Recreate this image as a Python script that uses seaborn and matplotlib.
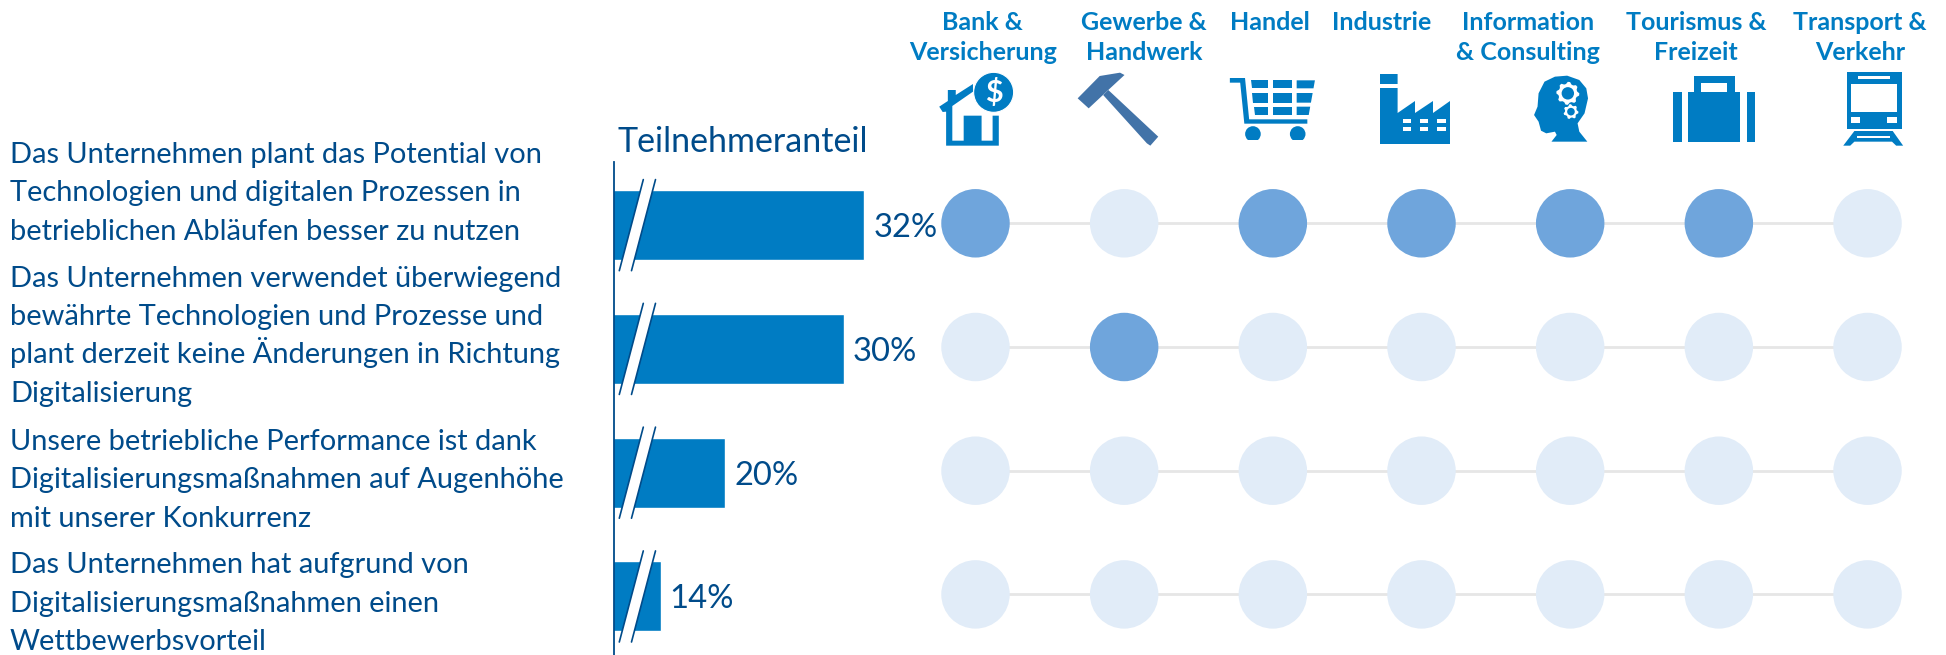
import numpy as np
import pandas as pd
import matplotlib
matplotlib.use("Agg")
import matplotlib.pyplot as plt
from matplotlib.patches import Polygon, Rectangle, Circle
import seaborn as sns

statements = [
    "Das Unternehmen plant das Potential von\nTechnologien und digitalen Prozessen in\nbetrieblichen Abläufen besser zu nutzen",
    "Das Unternehmen verwendet überwiegend\nbewährte Technologien und Prozesse und\nplant derzeit keine Änderungen in Richtung\nDigitalisierung",
    "Unsere betriebliche Performance ist dank\nDigitalisierungsmaßnahmen auf Augenhöhe\nmit unserer Konkurrenz",
    "Das Unternehmen hat aufgrund von\nDigitalisierungsmaßnahmen einen\nWettbewerbsvorteil",
]
share = [32.1, 30.3, 20.0, 14.4]
share_labels = ["32%", "30%", "20%", "14%"]
sectors = ["Bank &\nVersicherung", "Gewerbe &\nHandwerk", "Handel", "Industrie",
           "Information\n& Consulting", "Tourismus &\nFreizeit", "Transport &\nVerkehr"]
highlight = [
    [1, 0, 1, 1, 1, 1, 0],
    [0, 1, 0, 0, 0, 0, 0],
    [0, 0, 0, 0, 0, 0, 0],
    [0, 0, 0, 0, 0, 0, 0],
]

BLUE, NAVY, DOT, PALE, LINE, HAMMER = "#007CC3", "#004B8A", "#6FA5DC", "#E1ECF8", "#E6E6E6", "#4273A8"
W, H = 1946, 655

sns.set_theme(style="white")
plt.rcParams["font.family"] = ["Lato", "DejaVu Sans"]

fig = plt.figure(figsize=(W / 100, H / 100), dpi=100, facecolor="white")


def px_axes(l, t, r, b, **kw):
    return fig.add_axes([l / W, 1 - b / H, (r - l) / W, (b - t) / H], **kw)


# overlay in pixel units for text and pictograms
ov = px_axes(0, 0, W, H)
ov.set_xlim(0, W)
ov.set_ylim(H, 0)
ov.axis("off")

# bars
PX_PER = 11.5
X_LEFT = 10.3
ax = px_axes(613.5, 162, 613.5 + 40 * PX_PER, 655)
ax.patch.set_alpha(0)
bars = pd.DataFrame({"stmt": statements, "share": share})
sns.barplot(data=bars, y="stmt", x="share", orient="h", color=BLUE, saturation=1,
            width=0.565, ax=ax)
ax.set_xlim(X_LEFT, X_LEFT + 40)
ax.set_ylim(3.473, -0.51)
ax.set_xlabel("")
ax.set_ylabel("")
ax.set_xticks([])
ax.set_yticks([])
sns.despine(ax=ax, top=True, right=True, bottom=True, left=False)
ax.spines["left"].set_color(NAVY)
ax.spines["left"].set_linewidth(1.3)
for i, (v, lab) in enumerate(zip(share, share_labels)):
    ax.annotate(lab, (v, i), xytext=(6.5, 0), textcoords="offset points", va="center_baseline",
                ha="left", color=NAVY, fontsize=23.6)
    # axis-break marks
    x0 = X_LEFT + (619.3 - 613.5) / PX_PER
    x1 = X_LEFT + (643.3 - 613.5) / PX_PER
    gap = 12.2 / PX_PER
    yt, yb = i - 0.368, i + 0.368
    ax.fill([x0, x1, x1 + gap, x0 + gap], [yb, yt, yt, yb], color="white", lw=0, zorder=5)
    ax.plot([x0, x1], [yb, yt], color=NAVY, lw=1.2, zorder=6)
    ax.plot([x0 + gap, x1 + gap], [yb, yt], color=NAVY, lw=1.2, zorder=6)

# dot matrix
dx = 148.67
dy = 123.7
dax = px_axes(975.5 - dx / 2, 223.3 - dy / 2, 975.5 + 6.5 * dx, 223.3 + 3.5 * dy)
dax.patch.set_alpha(0)
dots = pd.DataFrame(
    [(r, c, highlight[r][c]) for r in range(len(statements)) for c in range(len(sectors))],
    columns=["row", "col", "hi"],
)
sns.lineplot(data=dots, x="col", y="row", units="row", estimator=None, color=LINE, lw=2,
             ax=dax, legend=False, zorder=1)
sns.scatterplot(data=dots, x="col", y="row", hue="hi", palette={0: PALE, 1: DOT},
                s=2430, linewidth=0, ax=dax, legend=False, zorder=2, clip_on=False)
dax.set_xlim(-0.5, 6.5)
dax.set_ylim(3.5, -0.5)
dax.axis("off")

# texts
first_baseline = [162.7, 286.7, 450, 573.3]
for t, y in zip(statements, first_baseline):
    for k, line in enumerate(t.split("\n")):
        ov.text(10, y + k * 38.4, line, color=NAVY, fontsize=20.9, ha="left", va="baseline")
ov.text(618, 152, "Teilnehmeranteil", color=NAVY, fontsize=24.5, ha="left", va="baseline")

header_x = [982.6, 1144, 1270, 1382, 1528, 1696, 1860]
for s, x in zip(sectors, header_x):
    for k, line in enumerate(s.split("\n")):
        ov.text(x, 30 + k * 29.5, line, color=BLUE, fontsize=18, fontweight="bold",
                ha="center", va="baseline")


# pictograms (drawn in crop units of the reference)
def Z1(p):
    return [(880 + x / 2.904, y / 3) for x, y in p]


def Z2(p):
    return [(1400 + x / 2.872, y / 3) for x, y in p]


def poly(p, c=BLUE, z=3):
    ov.add_patch(Polygon(p, closed=True, fc=c, ec="none", zorder=z))


def rect(z, x0, y0, x1, y1, c=BLUE, zo=3):
    poly(z([(x0, y0), (x1, y0), (x1, y1), (x0, y1)]), c, zo)


# bank
poly(Z1([(192, 335), (192, 437), (345, 437), (345, 347), (327, 347), (327, 422), (295, 422),
         (295, 347), (243, 347), (243, 422), (210, 422), (210, 318), (270, 275), (270, 252),
         (220, 285), (220, 270), (197, 270), (197, 303), (172, 320), (182, 336)]))
cx, cy = Z1([(330, 277)])[0]
ov.add_patch(Circle((cx, cy), 20, fc=BLUE, ec="white", lw=0.8, zorder=4))
ov.text(cx, cy + 0.5, "$", color="white", fontsize=22, fontweight="bold", ha="center",
        va="center", zorder=5)

# hammer
poly(Z1([(574, 295), (638, 228), (697, 218), (710, 225), (665, 268), (606, 325)]), HAMMER)
poly(Z1([(648, 285), (663, 270), (808, 410), (785, 437), (775, 430)]), HAMMER)

# cart
poly(Z1([(1016, 234), (1060, 234), (1072, 358), (1241, 358), (1241, 371), (1058, 371),
         (1046, 248), (1016, 248)]))
for (y0, y1) in [(241, 265), (279, 308), (320, 345)]:
    t0 = (y0 - 241) / 104
    t1 = (y1 - 241) / 104
    for a0, a1, b0, b1 in [(1078, 1127, 1088, 1127), (1140, 1195, 1140, 1195), (1210, 1263, 1210, 1245)]:
        poly(Z1([(a0 + (b0 - a0) * t0, y0), (a1 + (b1 - a1) * t0, y0),
                 (a1 + (b1 - a1) * t1, y1), (a0 + (b0 - a0) * t1, y1)]))
for wx in (1083, 1213):
    c = Z1([(wx, 402)])[0]
    ov.add_patch(Circle(c, 7.8, fc=BLUE, ec="none", zorder=3))
rect(Z1, 1050, 420, 1250, 432, "white", 4)

# factory
poly([(1380, 74), (1397.6, 74), (1397.6, 113), (1415, 101), (1415, 113), (1433, 101), (1433, 113),
      (1450, 101), (1450, 144), (1380, 144)])
ov.add_patch(Rectangle((1380, 83.5), 17.6, 4, fc="white", ec="none", zorder=4))
for wx in (1402.5, 1419.5, 1437):
    for wy in (118.5, 126.5):
        ov.add_patch(Rectangle((wx, wy), 8.5, 4, fc="white", ec="none", zorder=4))

# head with gears
poly(Z2([(435, 425), (450, 405), (445, 395), (420, 400), (405, 392), (398, 365), (385, 345),
         (395, 320), (398, 280), (415, 245), (445, 230), (480, 227), (515, 240), (535, 265),
         (540, 295), (530, 340), (510, 370), (515, 395), (538, 425)]))


def gear(center, r_out, r_in, r_hole, n=8):
    c = np.array(Z2([center])[0])
    ang = np.linspace(0, 2 * np.pi, 4 * n, endpoint=False)
    rad = np.array([r_out, r_out, r_in, r_in] * n)
    poly(np.c_[c[0] + rad * np.cos(ang), c[1] + rad * np.sin(ang)], "white", 4)
    ov.add_patch(Circle(c, r_hole, fc=BLUE, ec="none", zorder=5))


gear((482, 280), 11.5, 9.5, 6.2)
gear((491, 335), 7.5, 6, 3.8, 7)

# suitcase
rect(Z2, 784, 275, 810, 425)
rect(Z2, 996, 275, 1019, 425)
rect(Z2, 828, 275, 977, 425)
rect(Z2, 845, 228, 961, 275)
rect(Z2, 865, 250, 940, 275, "white", 4)

# train
rect(Z2, 1283, 216, 1441, 387)
rect(Z2, 1295, 252, 1427, 337, "white", 4)
rect(Z2, 1315, 228, 1407, 238, "white", 4)
rect(Z2, 1295, 352, 1322, 368, "white", 4)
rect(Z2, 1400, 352, 1427, 368, "white", 4)
poly(Z2([(1273, 437), (1305, 393), (1415, 393), (1445, 437), (1425, 437), (1413, 425),
         (1305, 425), (1293, 437)]))
rect(Z2, 1312, 408, 1408, 414, "white", 4)

fig.savefig("out.png", dpi=100, facecolor="white")
